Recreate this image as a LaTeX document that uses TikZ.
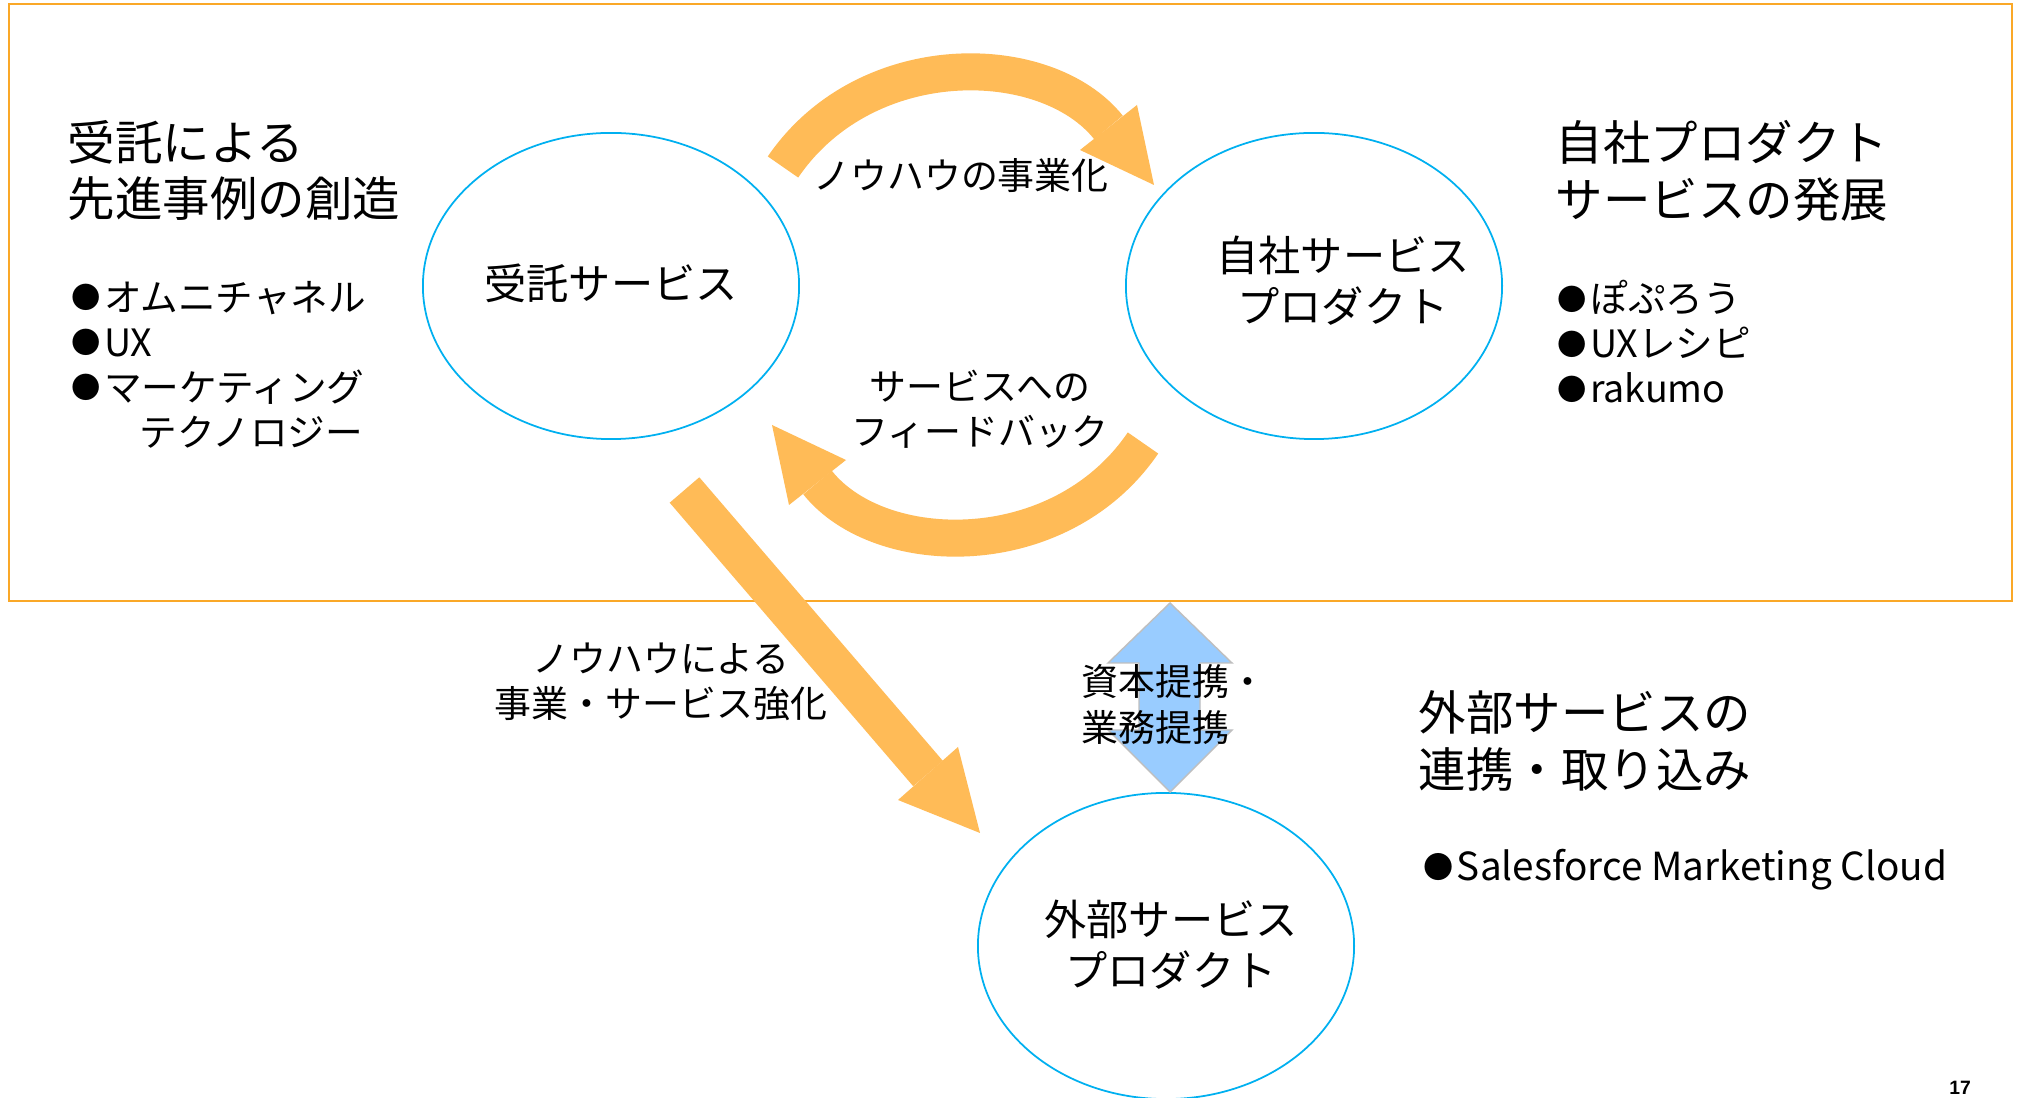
\documentclass[tikz,border=0pt]{standalone}
\usepackage{graphicx}
\usepackage{fontspec}
\setmainfont{Noto Sans CJK JP}
\newfontfamily\numfont{Liberation Sans}
\usetikzlibrary{shapes.geometric}
\definecolor{arroworange}{RGB}{255,187,87}
\definecolor{frameorange}{RGB}{250,168,40}
\definecolor{ellblue}{RGB}{0,176,240}
\definecolor{dblblue}{RGB}{153,204,255}
\newcommand\mybul{\makebox[0.86em][l]{\raisebox{0.07em}{\scalebox{0.78}{●}}}}
\begin{document}
\begin{tikzpicture}[x=0.01cm,y=-0.01cm,
  bubble/.style={draw=ellblue, line width=0.5pt, ellipse, minimum width=3.76cm, minimum height=3.06cm, inner sep=0pt},
  headtxt/.style={font=\fontsize{13.5}{16.2}\selectfont, align=left, inner sep=0pt, anchor=west},
  bultxt/.style={font=\fontsize{10.7}{12.8}\selectfont, align=left, inner sep=0pt, anchor=west},
  elltxt/.style={font=\fontsize{12}{14.5}\selectfont, align=center, inner sep=0pt},
  arrtxt/.style={font=\fontsize{10.5}{12.9}\selectfont, align=center, inner sep=0pt},
  bigshaft/.style={draw=arroworange, line width=0.37cm},
  headfill/.style={fill=arroworange}
]
\fill[white] (0,0) rectangle (2018,1098);
\useasboundingbox (0,0) rectangle (2018,1098);
\clip (0,0) rectangle (2018,1098);

% frame
\draw[frameorange, line width=0.6pt] (9,4) rectangle (2012,601);

% ellipses
\node[bubble] (e1) at (611,286) {};
\node[bubble] (e2) at (1314,286) {};
\node[bubble] (e3) at (1166,946) {};

% top curved arrow
\coordinate (a1s) at (783,167);
\coordinate (a1e) at (1108.5,127.5);
\draw[bigshaft] (a1s) .. controls (866,45.5) and (1046.5,49.5) .. (a1e);
\fill[headfill] (1137,105) -- (1154,185) -- (1080,150) -- cycle;

% bottom curved arrow
\coordinate (a2s) at (1143,443);
\coordinate (a2e) at (817.5,482.5);
\draw[bigshaft] (a2s) .. controls (1060,564.5) and (879.5,560.5) .. (a2e);
\fill[headfill] (789,505) -- (772,425) -- (846,460) -- cycle;

% diagonal arrow
\coordinate (a3s) at (684.5,490);
\coordinate (a3e) at (928,773.5);
\draw[bigshaft, line width=0.39cm] (a3s) -- (a3e);
\fill[headfill] (898,800) -- (980,833) -- (958,747) -- cycle;

% double blue arrow
\draw[fill=dblblue, draw=gray!50, line width=0.4pt]
  (1170,603) -- (1232,663) -- (1200,663) -- (1200,730) -- (1232,730) -- (1170,792)
  -- (1108,730) -- (1139,730) -- (1139,663) -- (1108,663) -- cycle;

% ellipse texts
\node[elltxt] (t1) at (611,283) {受託サービス};
\node[elltxt] (t2) at (1343,280.5) {自社サービス\\プロダクト};
\node[elltxt] (t3) at (1171,944.5) {外部サービス\\プロダクト};

% arrow labels
\node[arrtxt] (l1) at (961,176) {ノウハウの事業化};
\node[arrtxt] (l2) at (980,409.5) {サービスへの\\フィードバック};
\node[arrtxt] (l3) at (661,682) {ノウハウによる\\事業・サービス強化};
\node[arrtxt, align=left, anchor=west] (l4) at (1081,704.5) {資本提携・\\業務提携};

% headings
\node[headtxt] (h1) at (67,170.5) {受託による\\先進事例の創造};
\node[headtxt] (h2) at (1555,170.5) {自社プロダクト\\サービスの発展};
\node[headtxt] (h3) at (1418,741) {外部サービスの\\連携・取り込み};

% bullets
\node[bultxt] (b1) at (71,364.5) {\mybul オムニチャネル\\\mybul UX\\\mybul マーケティング\\\hspace*{1.8em}テクノロジー};
\node[bultxt] (b2) at (1557,342) {\mybul ぽぷろう\\\mybul UXレシピ\\\mybul rakumo};
\node[bultxt, font=\fontsize{11}{13}\selectfont] (b3) at (1423,870) {\mybul Salesforce Marketing Cloud};

% page number
\node[font=\numfont\bfseries\fontsize{5.5}{6}\selectfont, inner sep=0pt] (pg) at (1960,1088) {17};
\end{tikzpicture}
\end{document}
